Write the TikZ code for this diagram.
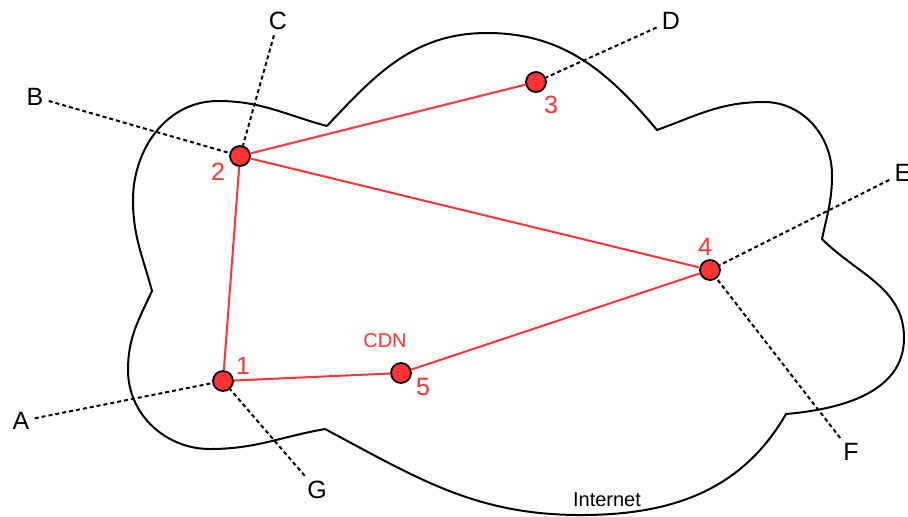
\documentclass[tikz,border=0pt]{standalone}
\usepackage{fontspec}
\setmainfont{Liberation Sans}
\usepackage{xcolor}
\definecolor{cdnred}{HTML}{FF3333}
\usetikzlibrary{positioning}

\begin{document}
\begin{tikzpicture}[x=0.5pt, y=-0.5pt,
  router/.style={circle, draw=black, line width=0.9pt, fill=cdnred,
    minimum size=10pt, inner sep=0pt},
  num/.style={text=cdnred, font=\fontsize{12.5}{14}\selectfont},
  host/.style={font=\fontsize{12.5}{14}\selectfont, inner sep=2.5pt},
  link/.style={cdnred, line width=1pt},
  tap/.style={black, line width=1pt, dash pattern=on 2pt off 1.5pt}
]
\useasboundingbox (0,0) rectangle (908,516);
\draw[line width=1pt] (327,126) to[out=165,in=0] (218,101) to[out=180,in=90] (133,200)
  to[out=-90,in=105] (152,291) to[out=-115,in=90] (128,370) to[out=-90,in=180] (210,449)
  to[out=0,in=190] (325,429) to[out=-28,in=180] (581,515) to[out=0,in=-120] (786,414)
  to[out=5,in=-90] (904,338) to[out=90,in=-45] (822,239) to[out=78,in=-90] (832,175)
  to[out=90,in=0] (764,102) to[out=180,in=20] (657,130) to[out=130,in=0] (487,33)
  to[out=180,in=47] (327,126);
\node[router] (r1) at (223,381) {};
\node[router] (r2) at (240,156) {};
\node[router] (r3) at (536,82) {};
\node[router] (r4) at (710,270) {};
\node[router] (r5) at (401,373) {};
\node[num] (n1) at (243,366) {1};
\node[num] (n2) at (218,172) {2};
\node[num] (n3) at (551,105) {3};
\node[num] (n4) at (705,247) {4};
\node[num] (n5) at (423,387) {5};
\node[num, font=\fontsize{10}{12}\selectfont] (cdn) at (385,341) {CDN};
\node[font=\fontsize{10}{12}\selectfont] (inet) at (607,500) {Internet};
\node[host] (A) at (21,421) {A};
\node[host] (B) at (35,97) {B};
\node[host] (C) at (278,21) {C};
\node[host] (D) at (671,21) {D};
\node[host] (E) at (903,173) {E};
\node[host] (F) at (851,452) {F};
\node[host] (G) at (317,490) {G};
\draw[link] (r1) -- (r2) -- (r3);
\draw[link] (r2) -- (r4) -- (r5) -- (r1);
\draw[tap] (A) -- (r1);
\draw[tap] (G) -- (r1);
\draw[tap] (B) -- (r2);
\draw[tap] (C) -- (r2);
\draw[tap] (D) -- (r3);
\draw[tap] (E) -- (r4);
\draw[tap] (F) -- (r4);
\end{tikzpicture}
\end{document}
